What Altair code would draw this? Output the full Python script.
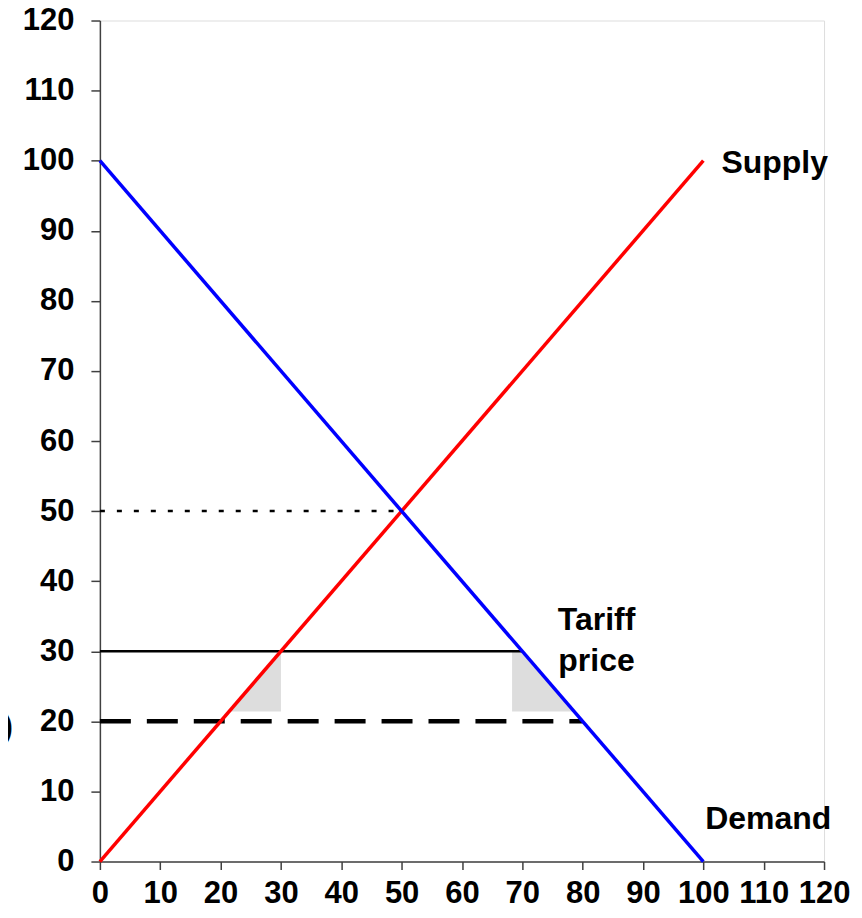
import altair as alt
import pandas as pd

# Data
supply_x = [0, 100]
supply_y = [0, 100]
demand_x = [0, 100]
demand_y = [100, 0]
tariff_x = [0, 70]
tariff_y = [30, 30]
world_x = [0, 80]
world_y = [20, 20]
eq_x = [0, 50]
eq_y = [50, 50]
left_tri_x = [21.4, 30]
left_tri_top = [21.4, 30]
right_tri_x = [68.3, 70, 78.6]
right_tri_top = [30, 30, 21.4]
tri_base = 21.4
ticks = [0, 10, 20, 30, 40, 50, 60, 70, 80, 90, 100, 110, 120]

FONT = "Liberation Sans"

xs = alt.Scale(domain=[0, 120], nice=False, zero=False)
ys = alt.Scale(domain=[0, 120], nice=False, zero=False)

def line_df(xv, yv):
    return pd.DataFrame({"x": xv, "y": yv})

x_axis = alt.Axis(values=ticks, grid=False, title=None, labelFontSize=31, labelFont=FONT,
                  labelFontWeight="bold", labelColor="black", domainColor="#404040",
                  tickColor="#404040", tickSize=8, domainWidth=1.5, tickWidth=1.5,
                  labelPadding=9, labelOverlap=False, labelFlush=False)
y_axis = alt.Axis(values=ticks, grid=False, title=None, labelFontSize=31, labelFont=FONT,
                  labelFontWeight="bold", labelColor="black", domainColor="#404040",
                  tickColor="#404040", tickSize=9, domainWidth=1.5, tickWidth=1.5,
                  labelPadding=17, labelOverlap=False, labelFlush=False)

left_tri = alt.Chart(pd.DataFrame({"x": left_tri_x, "y": left_tri_top, "y2": [tri_base]*2})).mark_area(
    color="#dddddd", opacity=1).encode(
    x=alt.X("x:Q", scale=xs, axis=x_axis), y=alt.Y("y:Q", scale=ys, axis=y_axis), y2="y2:Q")
right_tri = alt.Chart(pd.DataFrame({"x": right_tri_x, "y": right_tri_top, "y2": [tri_base]*3})).mark_area(
    color="#dddddd", opacity=1).encode(x=alt.X("x:Q", scale=xs), y=alt.Y("y:Q", scale=ys), y2="y2:Q")

tariff = alt.Chart(line_df(tariff_x, tariff_y)).mark_line(color="black", strokeWidth=2.5).encode(
    x=alt.X("x:Q", scale=xs), y=alt.Y("y:Q", scale=ys))
world = alt.Chart(line_df(world_x, world_y)).mark_line(color="black", strokeWidth=4.5, strokeDash=[31, 16]).encode(
    x=alt.X("x:Q", scale=xs), y=alt.Y("y:Q", scale=ys))
eq = alt.Chart(line_df(eq_x, eq_y)).mark_line(color="black", strokeWidth=2.5, strokeDash=[5, 12]).encode(
    x=alt.X("x:Q", scale=xs), y=alt.Y("y:Q", scale=ys))
supply = alt.Chart(line_df(supply_x, supply_y)).mark_line(color="#ff0000", strokeWidth=3.5).encode(
    x=alt.X("x:Q", scale=xs), y=alt.Y("y:Q", scale=ys))
demand = alt.Chart(line_df(demand_x, demand_y)).mark_line(color="#0000ff", strokeWidth=3.5).encode(
    x=alt.X("x:Q", scale=xs), y=alt.Y("y:Q", scale=ys))

labels_left = pd.DataFrame({
    "x": [103, 100.3],
    "y": [99.6, 6.0],
    "t": ["Supply", "Demand"],
})
labels_center = pd.DataFrame({
    "x": [82.3, 82.3],
    "y": [34.5, 28.6],
    "t": ["Tariff", "price"],
})
txt_left = alt.Chart(labels_left).mark_text(font=FONT, fontSize=32, fontWeight="bold", color="black",
                                           align="left", baseline="middle").encode(
    x=alt.X("x:Q", scale=xs), y=alt.Y("y:Q", scale=ys), text="t:N")
txt_center = alt.Chart(labels_center).mark_text(font=FONT, fontSize=32, fontWeight="bold", color="black",
                                               align="center", baseline="middle").encode(
    x=alt.X("x:Q", scale=xs), y=alt.Y("y:Q", scale=ys), text="t:N")
paren = alt.Chart(pd.DataFrame({"t": [")"]})).mark_text(font=FONT, fontSize=34, fontWeight="bold",
                                                        color="black", align="right", baseline="middle").encode(
    x=alt.value(-87), y=alt.value(707), text="t:N")

chart = alt.layer(left_tri, right_tri, tariff, world, eq, supply, demand, txt_left, txt_center, paren).properties(
    width=725, height=842,
    autosize=alt.AutoSizeParams(type="none"),
    padding={"left": 92, "top": 12, "right": 30, "bottom": 48},
).configure_view(stroke=None).configure(background="white")

chart.save("out.html", embed_options={"renderer": "svg", "actions": False})
